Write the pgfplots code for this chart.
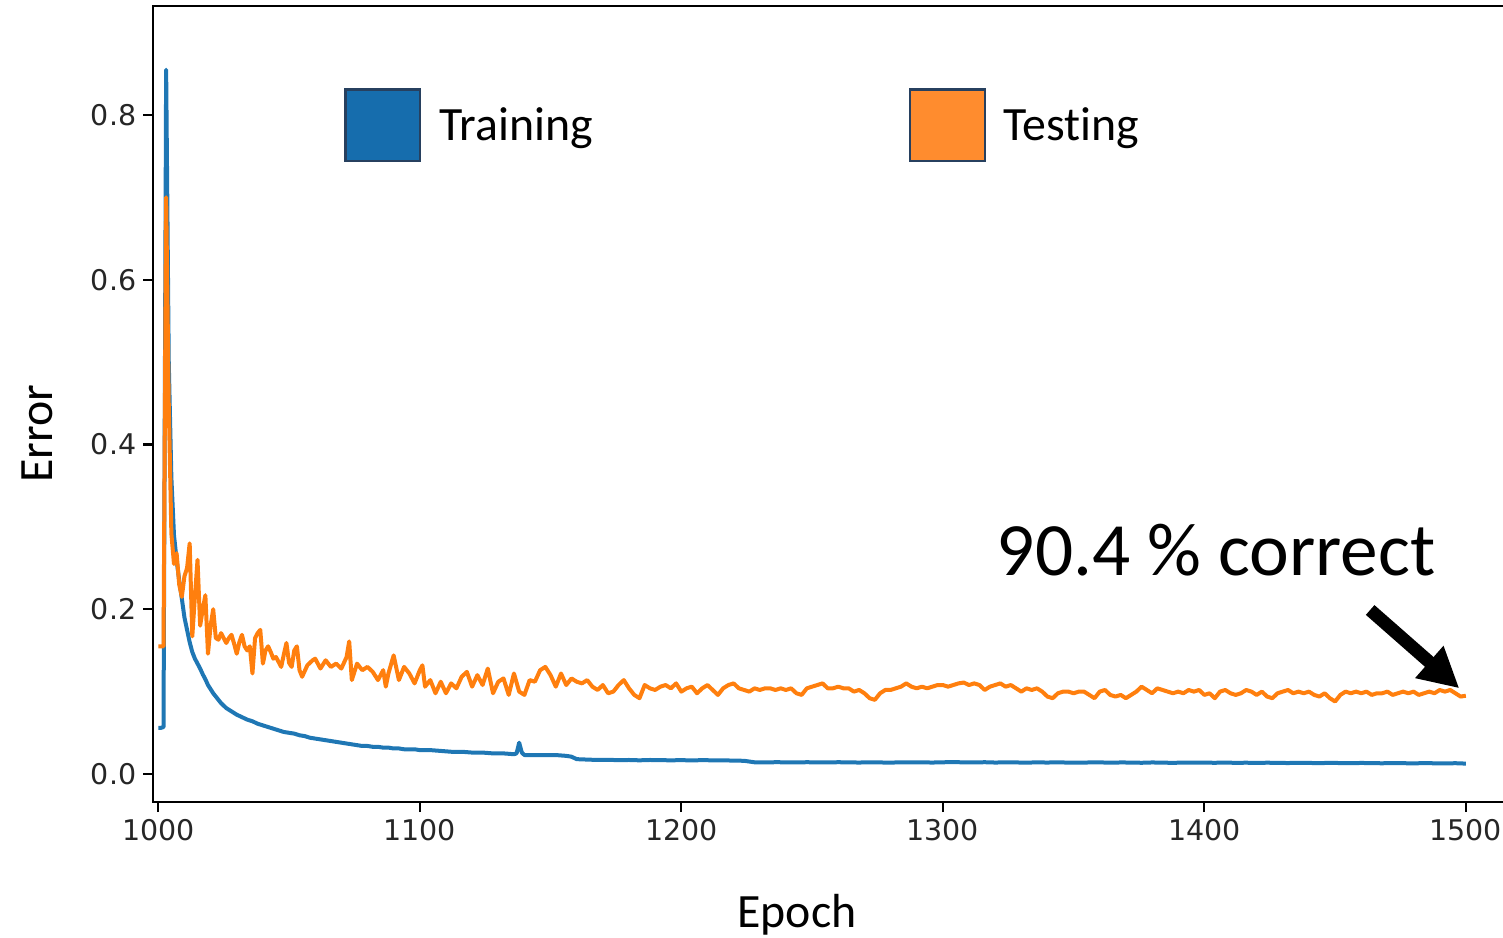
\documentclass[border=0pt]{standalone}
\usepackage{fontspec}
\setmainfont{Carlito}[Ligatures=NoCommon]
\newfontfamily\dejavu{DejaVu Sans}
\usepackage{pgfplots}
\pgfplotsset{compat=1.18}
\usetikzlibrary{arrows.meta}
\definecolor{tabblue}{HTML}{1F77B4}
\definecolor{taborange}{HTML}{FF7F0E}
\definecolor{legblue}{HTML}{166DAD}
\definecolor{legorange}{HTML}{FF8C2E}
\definecolor{legedge}{HTML}{27405F}
\begin{document}
\begin{tikzpicture}
\begin{axis}[
  at={(0,0)}, anchor=south west,
  scale only axis, width=683.35bp, height=398bp,
  xmin=998.09, xmax=1520.7, ymin=-0.034, ymax=0.9323,
  xtick={1000,1100,1200,1300,1400,1500},
  ytick={0,0.2,0.4,0.6,0.8},
  tick pos=left, tick align=outside, major tick length=5bp,
  tick style={line width=1.1bp, black},
  axis line style={line width=1.1bp, black},
  ticklabel style={font=\dejavu\fontsize{14.3}{17}\selectfont, text=black!85},
  /pgf/number format/assume math mode=true,
  xticklabel style={/pgf/number format/set thousands separator={}},
  yticklabel style={/pgf/number format/.cd, fixed, fixed zerofill, precision=1},
  xlabel={Epoch}, ylabel={Error},
  every axis x label/.style={at={(axis description cs:0.4710,-0.1579)}, anchor=base, font=\fontsize{24}{29}\selectfont},
  every axis y label/.style={at={(axis description cs:-0.0741,0.4623)}, rotate=90, anchor=base, font=\fontsize{24}{29}\selectfont},
  legend columns=2,
  legend style={at={(rel axis cs:0.13975,0.8966)}, anchor=north west, draw=none, fill=none,
    inner sep=0pt, outer sep=0pt, font=\fontsize{24}{29}\selectfont,
    /tikz/every odd column/.style={column sep=7bp},
    /tikz/every even column/.style={column sep=156bp}},
]
\addplot[tabblue, line width=2bp, line join=round, forget plot] table {
1000 0.056
1001 0.056
1002 0.057
1003 0.855
1004 0.50
1005 0.36
1006 0.29
1007 0.26
1008 0.235
1009 0.213
1010 0.190
1011 0.175
1012 0.160
1013 0.148
1014 0.140
1015 0.134
1016 0.128
1017 0.121
1018 0.115
1019 0.108
1020 0.103
1021 0.098
1022 0.094
1024 0.086
1026 0.080
1028 0.076
1030 0.072
1032 0.069
1034 0.066
1036 0.064
1038 0.061
1040 0.059
1042 0.057
1044 0.055
1046 0.053
1048 0.051
1050 0.050
1052 0.049
1054 0.047
1056 0.046
1058 0.044
1060 0.043
1062 0.042
1064 0.041
1066 0.040
1068 0.039
1070 0.038
1072 0.037
1074 0.036
1076 0.035
1078 0.034
1080 0.034
1082 0.033
1084 0.033
1086 0.032
1088 0.032
1090 0.031
1092 0.031
1094 0.030
1096 0.030
1098 0.030
1100 0.029
1104 0.029
1108 0.028
1112 0.027
1116 0.027
1120 0.026
1124 0.026
1128 0.025
1132 0.025
1136 0.024
1137 0.025
1138 0.038
1139 0.026
1140 0.023
1144 0.023
1148 0.023
1152 0.023
1156 0.022
1158 0.021
1160 0.018
1164 0.0175
1168 0.0170
1172 0.0172
1176 0.0168
1180 0.0170
1184 0.0166
1188 0.0170
1192 0.0168
1196 0.0166
1200 0.0168
1204 0.0165
1208 0.0168
1212 0.0166
1216 0.0165
1220 0.0163
1224 0.0160
1228 0.0142
1232 0.0140
1236 0.0143
1240 0.0142
1244 0.0140
1248 0.0143
1252 0.0141
1256 0.0140
1260 0.0143
1264 0.0141
1268 0.0139
1272 0.0142
1276 0.0140
1280 0.0138
1284 0.0142
1288 0.0140
1292 0.0141
1296 0.0139
1300 0.0142
1304 0.0145
1308 0.0141
1312 0.0140
1316 0.0143
1320 0.0139
1324 0.0141
1328 0.0140
1332 0.0138
1336 0.0141
1340 0.0139
1344 0.0142
1348 0.0138
1352 0.0137
1356 0.0140
1360 0.0141
1364 0.0137
1368 0.0140
1372 0.0139
1376 0.0136
1380 0.0140
1384 0.0138
1388 0.0135
1392 0.0139
1396 0.0137
1400 0.0138
1404 0.0136
1408 0.0139
1412 0.0135
1416 0.0137
1420 0.0134
1424 0.0137
1428 0.0135
1432 0.0133
1436 0.0136
1440 0.0134
1444 0.0132
1448 0.0135
1452 0.0133
1456 0.0131
1460 0.0134
1464 0.0132
1468 0.0130
1472 0.0133
1476 0.0131
1480 0.0129
1484 0.0132
1488 0.0130
1492 0.0128
1496 0.0131
1500 0.0126
};
\addplot[taborange, line width=2bp, line join=round, forget plot] table {
1000 0.155
1001 0.155
1002 0.155
1003 0.700
1004 0.45
1005 0.292
1006 0.255
1007 0.268
1008 0.230
1009 0.215
1010 0.240
1011 0.250
1012 0.280
1013 0.167
1014 0.215
1015 0.260
1016 0.180
1017 0.200
1018 0.217
1019 0.146
1020 0.180
1021 0.200
1022 0.165
1023 0.163
1024 0.171
1025 0.165
1026 0.159
1027 0.165
1028 0.169
1029 0.158
1030 0.146
1031 0.160
1032 0.169
1033 0.155
1034 0.150
1035 0.155
1036 0.122
1037 0.165
1038 0.171
1039 0.175
1040 0.134
1041 0.150
1042 0.155
1043 0.148
1044 0.140
1045 0.142
1046 0.136
1047 0.130
1048 0.145
1049 0.159
1050 0.135
1051 0.130
1052 0.150
1053 0.155
1054 0.126
1055 0.118
1056 0.125
1057 0.132
1058 0.135
1059 0.138
1060 0.140
1062 0.128
1064 0.138
1066 0.130
1068 0.134
1070 0.128
1072 0.142
1073 0.161
1074 0.114
1076 0.134
1078 0.126
1080 0.130
1082 0.124
1084 0.114
1086 0.126
1087 0.106
1088 0.122
1090 0.144
1092 0.114
1094 0.130
1096 0.122
1098 0.110
1100 0.126
1101 0.132
1102 0.106
1104 0.114
1106 0.098
1108 0.112
1110 0.098
1112 0.110
1114 0.104
1116 0.118
1118 0.124
1120 0.106
1122 0.120
1124 0.108
1126 0.128
1128 0.098
1130 0.112
1132 0.116
1134 0.096
1136 0.122
1138 0.100
1140 0.096
1142 0.114
1144 0.112
1146 0.126
1148 0.130
1150 0.120
1152 0.106
1154 0.122
1156 0.108
1158 0.116
1160 0.112
1162 0.110
1164 0.114
1166 0.106
1168 0.102
1170 0.108
1172 0.098
1174 0.100
1176 0.108
1178 0.114
1180 0.104
1182 0.096
1184 0.092
1186 0.108
1188 0.104
1190 0.102
1192 0.106
1194 0.108
1196 0.104
1198 0.110
1200 0.100
1202 0.104
1204 0.106
1206 0.098
1208 0.104
1210 0.108
1212 0.102
1214 0.096
1216 0.104
1218 0.108
1220 0.110
1222 0.104
1224 0.102
1226 0.100
1228 0.104
1230 0.102
1232 0.104
1234 0.104
1236 0.102
1238 0.104
1240 0.102
1242 0.104
1244 0.098
1246 0.096
1248 0.104
1250 0.106
1252 0.108
1254 0.110
1256 0.104
1258 0.104
1260 0.106
1262 0.104
1264 0.104
1266 0.100
1268 0.102
1270 0.098
1272 0.092
1274 0.090
1276 0.098
1278 0.102
1280 0.102
1282 0.104
1284 0.106
1286 0.110
1288 0.106
1290 0.104
1292 0.106
1294 0.104
1296 0.106
1298 0.108
1300 0.108
1302 0.106
1304 0.108
1306 0.110
1308 0.111
1310 0.108
1312 0.110
1314 0.108
1316 0.102
1318 0.106
1320 0.108
1322 0.110
1324 0.106
1326 0.108
1328 0.104
1330 0.100
1332 0.104
1334 0.102
1336 0.104
1338 0.100
1340 0.094
1342 0.092
1344 0.098
1346 0.100
1348 0.100
1350 0.098
1352 0.100
1354 0.100
1356 0.096
1358 0.092
1360 0.100
1362 0.102
1364 0.096
1366 0.094
1368 0.096
1370 0.092
1372 0.096
1374 0.100
1376 0.106
1378 0.102
1380 0.098
1382 0.104
1384 0.102
1386 0.100
1388 0.098
1390 0.100
1392 0.098
1394 0.102
1396 0.100
1398 0.102
1400 0.096
1402 0.098
1404 0.092
1406 0.100
1408 0.102
1410 0.098
1412 0.096
1414 0.098
1416 0.102
1418 0.100
1420 0.096
1422 0.100
1424 0.094
1426 0.092
1428 0.098
1430 0.100
1432 0.102
1434 0.098
1436 0.100
1438 0.098
1440 0.100
1442 0.096
1444 0.094
1446 0.098
1448 0.092
1450 0.088
1452 0.096
1454 0.100
1456 0.098
1458 0.100
1460 0.098
1462 0.100
1464 0.096
1466 0.098
1468 0.098
1470 0.100
1472 0.096
1474 0.098
1476 0.100
1478 0.098
1480 0.100
1482 0.096
1484 0.098
1486 0.100
1488 0.098
1490 0.102
1492 0.100
1494 0.102
1496 0.098
1498 0.094
1500 0.095
};
\addlegendimage{legend image code/.code={\draw[fill=legblue, draw=legedge, line width=1.2bp] (0bp,-17.9bp) rectangle (37.3bp,17.9bp);}}
\addlegendentry{Training}
\addlegendimage{legend image code/.code={\draw[fill=legorange, draw=legedge, line width=1.2bp] (0bp,-17.9bp) rectangle (37.3bp,17.9bp);}}
\addlegendentry{Testing}
\node[anchor=base west, inner sep=0pt, font=\fontsize{37.8}{45}\selectfont] at (axis cs:1320.5,0.2404) {90.4 \% correct};
\draw[line width=6.5bp, -{Triangle[width=20bp,length=20bp]}] (axis cs:1463.4,0.1991) -- (axis cs:1497.5,0.104);
\end{axis}
\pgfresetboundingbox
\path[use as bounding box] (-76.65bp,-68bp) rectangle (674.85bp,401bp);
\end{tikzpicture}
\end{document}
